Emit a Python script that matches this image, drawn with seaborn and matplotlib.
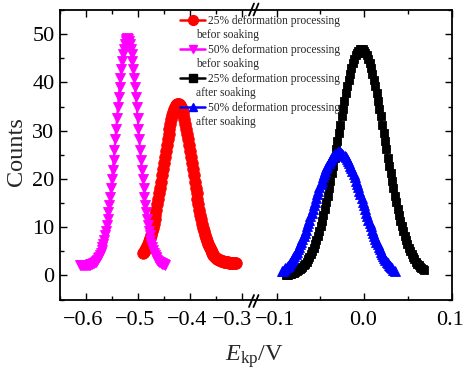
import matplotlib
matplotlib.use("Agg")
import matplotlib.pyplot as plt
import matplotlib.transforms as mtransforms
import seaborn as sns
from matplotlib.lines import Line2D
from matplotlib.ticker import MultipleLocator

# ---------------- data ----------------
labels_line1 = ["25% deformation processing", "50% deformation processing",
                "25% deformation processing", "50% deformation processing"]
labels_line2 = ["befor soaking", "befor soaking", "after soaking", "after soaking"]

x_red = [-0.4896, -0.4878, -0.4860, -0.4842, -0.4824, -0.4806, -0.4788, -0.4770, -0.4752, -0.4734,
         -0.4716, -0.4698, -0.4680, -0.4662, -0.4644, -0.4626, -0.4608, -0.4590, -0.4572, -0.4554,
         -0.4536, -0.4518, -0.4500, -0.4482, -0.4464, -0.4446, -0.4428, -0.4410, -0.4392, -0.4374,
         -0.4356, -0.4338, -0.4320, -0.4302, -0.4284, -0.4266, -0.4248, -0.4230, -0.4212, -0.4194,
         -0.4176, -0.4158, -0.4140, -0.4122, -0.4104, -0.4086, -0.4068, -0.4050, -0.4032, -0.4014,
         -0.3996, -0.3978, -0.3960, -0.3942, -0.3924, -0.3906, -0.3888, -0.3870, -0.3852, -0.3834,
         -0.3816, -0.3798, -0.3780, -0.3762, -0.3744, -0.3726, -0.3708, -0.3690, -0.3672, -0.3654,
         -0.3636, -0.3618, -0.3600, -0.3582, -0.3564, -0.3546, -0.3528, -0.3510, -0.3492, -0.3474,
         -0.3456, -0.3438, -0.3420, -0.3402, -0.3384, -0.3366, -0.3348, -0.3330, -0.3312, -0.3294,
         -0.3276, -0.3258, -0.3240, -0.3222, -0.3204, -0.3186, -0.3168, -0.3150, -0.3132, -0.3114]
y_red = [4.55, 4.86, 5.22, 5.62, 6.07, 6.57, 7.12, 7.72, 8.39, 9.11,
         9.90, 10.74, 11.65, 12.61, 13.63, 14.70, 15.83, 17.00, 18.21, 19.45,
         20.71, 21.99, 23.27, 24.55, 25.80, 27.03, 28.22, 29.36, 30.43, 31.43,
         32.33, 33.14, 33.84, 34.43, 34.89, 35.23, 35.43, 35.50, 35.43, 35.23,
         34.89, 34.43, 33.84, 33.14, 32.33, 31.43, 30.43, 29.36, 28.22, 27.03,
         25.80, 24.55, 23.27, 21.99, 20.71, 19.45, 18.21, 17.00, 15.83, 14.70,
         13.63, 12.61, 11.65, 10.74, 9.90, 9.11, 8.39, 7.72, 7.12, 6.57,
         6.07, 5.62, 5.22, 4.86, 4.55, 4.27, 4.02, 3.81, 3.62, 3.46,
         3.32, 3.20, 3.10, 3.02, 2.94, 2.88, 2.83, 2.79, 2.75, 2.72,
         2.70, 2.68, 2.66, 2.65, 2.64, 2.63, 2.62, 2.62, 2.62, 2.61]

x_mag = [-0.61125, -0.60960, -0.60795, -0.60630, -0.60465, -0.60300, -0.60135, -0.59970, -0.59805, -0.59640,
         -0.59475, -0.59310, -0.59145, -0.58980, -0.58815, -0.58650, -0.58485, -0.58320, -0.58155, -0.57990,
         -0.57825, -0.57660, -0.57495, -0.57330, -0.57165, -0.57000, -0.56835, -0.56670, -0.56505, -0.56340,
         -0.56175, -0.56010, -0.55845, -0.55680, -0.55515, -0.55350, -0.55185, -0.55020, -0.54855, -0.54690,
         -0.54525, -0.54360, -0.54195, -0.54030, -0.53865, -0.53700, -0.53535, -0.53370, -0.53205, -0.53040,
         -0.52875, -0.52710, -0.52545, -0.52380, -0.52215, -0.52050, -0.51885, -0.51720, -0.51555, -0.51390,
         -0.51225, -0.51060, -0.50895, -0.50730, -0.50565, -0.50400, -0.50235, -0.50070, -0.49905, -0.49740,
         -0.49575, -0.49410, -0.49245, -0.49080, -0.48915, -0.48750, -0.48585, -0.48420, -0.48255, -0.48090,
         -0.47925, -0.47760, -0.47595, -0.47430, -0.47265, -0.47100, -0.46935, -0.46770, -0.46605, -0.46440,
         -0.46275, -0.46110, -0.45945, -0.45780, -0.45615, -0.45450, -0.45285, -0.45120, -0.44955, -0.44790]
y_mag = [2.10, 2.11, 2.11, 2.11, 2.12, 2.13, 2.13, 2.15, 2.16, 2.18,
         2.21, 2.24, 2.28, 2.34, 2.40, 2.48, 2.59, 2.71, 2.87, 3.06,
         3.29, 3.56, 3.89, 4.27, 4.72, 5.25, 5.86, 6.57, 7.37, 8.28,
         9.30, 10.44, 11.71, 13.10, 14.62, 16.26, 18.02, 19.89, 21.86, 23.92,
         26.05, 28.24, 30.44, 32.66, 34.84, 36.97, 39.02, 40.96, 42.75, 44.37,
         45.79, 46.99, 47.94, 48.64, 49.06, 49.20, 49.06, 48.64, 47.94, 46.99,
         45.79, 44.37, 42.75, 40.96, 39.02, 36.97, 34.84, 32.66, 30.44, 28.24,
         26.05, 23.92, 21.86, 19.89, 18.02, 16.26, 14.62, 13.10, 11.71, 10.44,
         9.30, 8.28, 7.37, 6.57, 5.86, 5.25, 4.72, 4.27, 3.89, 3.56,
         3.29, 3.06, 2.87, 2.71, 2.59, 2.48, 2.40, 2.34, 2.28, 2.24]

x_blk = [-0.0899, -0.0883, -0.0867, -0.0851, -0.0835, -0.0819, -0.0803, -0.0787, -0.0771, -0.0755,
         -0.0739, -0.0723, -0.0707, -0.0691, -0.0675, -0.0659, -0.0643, -0.0627, -0.0611, -0.0595,
         -0.0579, -0.0563, -0.0547, -0.0531, -0.0515, -0.0499, -0.0483, -0.0467, -0.0451, -0.0435,
         -0.0419, -0.0403, -0.0387, -0.0371, -0.0355, -0.0339, -0.0323, -0.0307, -0.0291, -0.0275,
         -0.0259, -0.0243, -0.0227, -0.0211, -0.0195, -0.0179, -0.0163, -0.0147, -0.0131, -0.0115,
         -0.0099, -0.0083, -0.0067, -0.0051, -0.0035, -0.0019, -0.0003, 0.0013, 0.0029, 0.0045,
         0.0061, 0.0077, 0.0093, 0.0109, 0.0125, 0.0141, 0.0157, 0.0173, 0.0189, 0.0205,
         0.0221, 0.0237, 0.0253, 0.0269, 0.0285, 0.0301, 0.0317, 0.0333, 0.0349, 0.0365,
         0.0381, 0.0397, 0.0413, 0.0429, 0.0445, 0.0461, 0.0477, 0.0493, 0.0509, 0.0525,
         0.0541, 0.0557, 0.0573, 0.0589, 0.0605, 0.0621, 0.0637, 0.0653, 0.0669, 0.0685]
y_blk = [0.05, 0.10, 0.17, 0.24, 0.33, 0.43, 0.55, 0.69, 0.85, 1.04,
         1.26, 1.50, 1.78, 2.10, 2.46, 2.87, 3.32, 3.83, 4.40, 5.02,
         5.71, 6.47, 7.29, 8.19, 9.16, 10.21, 11.33, 12.52, 13.79, 15.13,
         16.54, 18.02, 19.55, 21.14, 22.77, 24.43, 26.12, 27.83, 29.54, 31.25,
         32.93, 34.57, 36.17, 37.70, 39.16, 40.52, 41.79, 42.93, 43.95, 44.83,
         45.57, 46.14, 46.56, 46.82, 46.90, 46.82, 46.56, 46.14, 45.57, 44.83,
         43.95, 42.93, 41.79, 40.52, 39.16, 37.70, 36.17, 34.57, 32.93, 31.25,
         29.54, 27.83, 26.12, 24.43, 22.77, 21.14, 19.55, 18.02, 16.54, 15.13,
         13.79, 12.52, 11.33, 10.21, 9.16, 8.19, 7.29, 6.47, 5.71, 5.02,
         4.40, 3.83, 3.32, 2.87, 2.46, 2.10, 1.78, 1.50, 1.26, 1.04]

x_blu = [-0.0940, -0.0927, -0.0914, -0.0901, -0.0888, -0.0875, -0.0862, -0.0849, -0.0836, -0.0823,
         -0.0810, -0.0797, -0.0784, -0.0771, -0.0758, -0.0745, -0.0732, -0.0719, -0.0706, -0.0693,
         -0.0680, -0.0667, -0.0654, -0.0641, -0.0628, -0.0615, -0.0602, -0.0589, -0.0576, -0.0563,
         -0.0550, -0.0537, -0.0524, -0.0511, -0.0498, -0.0485, -0.0472, -0.0459, -0.0446, -0.0433,
         -0.0420, -0.0407, -0.0394, -0.0381, -0.0368, -0.0355, -0.0342, -0.0329, -0.0316, -0.0303,
         -0.0290, -0.0277, -0.0264, -0.0251, -0.0238, -0.0225, -0.0212, -0.0199, -0.0186, -0.0173,
         -0.0160, -0.0147, -0.0134, -0.0121, -0.0108, -0.0095, -0.0082, -0.0069, -0.0056, -0.0043,
         -0.0030, -0.0017, -0.0004, 0.0009, 0.0022, 0.0035, 0.0048, 0.0061, 0.0074, 0.0087,
         0.0100, 0.0113, 0.0126, 0.0139, 0.0152, 0.0165, 0.0178, 0.0191, 0.0204, 0.0217,
         0.0230, 0.0243, 0.0256, 0.0269, 0.0282, 0.0295, 0.0308, 0.0321, 0.0334, 0.0347]
y_blu = [0.81, 1.00, 1.20, 1.43, 1.67, 1.94, 2.22, 2.53, 2.86, 3.22,
         3.60, 4.01, 4.44, 4.90, 5.38, 5.89, 6.43, 6.99, 7.58, 8.19,
         8.82, 9.48, 10.15, 10.85, 11.56, 12.28, 13.02, 13.76, 14.51, 15.27,
         16.02, 16.77, 17.51, 18.24, 18.96, 19.65, 20.33, 20.97, 21.59, 22.17,
         22.72, 23.22, 23.68, 24.10, 24.46, 24.78, 25.03, 25.24, 25.38, 25.47,
         25.50, 25.47, 25.38, 25.24, 25.03, 24.78, 24.46, 24.10, 23.68, 23.22,
         22.72, 22.17, 21.59, 20.97, 20.33, 19.65, 18.96, 18.24, 17.51, 16.77,
         16.02, 15.27, 14.51, 13.76, 13.02, 12.28, 11.56, 10.85, 10.15, 9.48,
         8.82, 8.19, 7.58, 6.99, 6.43, 5.89, 5.38, 4.90, 4.44, 4.01,
         3.60, 3.22, 2.86, 2.53, 2.22, 1.94, 1.67, 1.43, 1.20, 1.00]

# ---------------- style ----------------
sns.set_style("ticks")
plt.rcParams["font.family"] = ["Liberation Serif", "DejaVu Serif"]
plt.rcParams["mathtext.fontset"] = "custom"
plt.rcParams["mathtext.rm"] = "Liberation Serif"
plt.rcParams["mathtext.it"] = "Liberation Serif:italic"
plt.rcParams["axes.unicode_minus"] = True

W, H = 465, 371
fig = plt.figure(figsize=(W / 100, H / 100), dpi=100)
fig.patch.set_facecolor("white")


def fx(px):
    return px / W


def fy(py):
    return 1 - py / H


TOP, BOT, LEFT, BRK, RIGHT = 10, 299.5, 60, 255, 451.7
axL = fig.add_axes([fx(LEFT), fy(BOT), (BRK - LEFT) / W, (BOT - TOP) / H])
axR = fig.add_axes([fx(BRK), fy(BOT), (RIGHT - BRK) / W, (BOT - TOP) / H])

series = [
    (x_red, y_red, "#ff0000", "o", 8.3, axL),
    (x_mag, y_mag, "#ff00ff", "v", 7.4, axL),
    (x_blk, y_blk, "#000000", "s", 6.4, axR),
    (x_blu, y_blu, "#0000ff", "^", 7.4, axR),
]
for xs, ys, c, m, ms, ax in series:
    sns.lineplot(x=xs, y=ys, ax=ax, color=c, marker=m, markersize=ms,
                 markeredgecolor=c, markeredgewidth=0.6, linewidth=1.5,
                 estimator=None, errorbar=None, sort=False)

for ax in (axL, axR):
    ax.set_ylim(-5, 55)
    ax.yaxis.set_major_locator(MultipleLocator(10))
    ax.yaxis.set_minor_locator(MultipleLocator(5))
    ax.xaxis.set_major_locator(MultipleLocator(0.1))
    ax.xaxis.set_minor_locator(MultipleLocator(0.05))
    ax.tick_params(which="both", direction="in", width=1.0, top=True,
                   labelsize=16, colors="black")
    ax.tick_params(which="major", length=5)
    ax.tick_params(which="minor", length=3)
    ax.tick_params(axis="x", which="both", pad=8)
    ax.tick_params(axis="y", which="both", pad=4)
    ax.set_xlabel("")
    ax.set_ylabel("")
    ax.set_facecolor("white")
    for s in ax.spines.values():
        s.set_linewidth(1.3)
        s.set_color("black")

axL.set_xlim(-0.6501, -0.2744)
axL.spines["right"].set_visible(False)
axL.tick_params(axis="y", which="both", left=True, right=False)

axR.set_xlim(-0.1248, 0.1)
axR.spines["left"].set_visible(False)
axR.tick_params(axis="y", which="both", left=False, right=True,
                labelleft=False, labelright=False)

# axis titles
fig.text(fx(16.5), fy(152), "Counts", rotation=90, ha="center", va="center",
         fontsize=17.5)
fig.text(fx(254), fy(361), r"$E_{\mathrm{kp}}$/V", ha="center", va="baseline",
         fontsize=17.5)

# break marks
for cy in (9.5, 301):
    for cx in (251.5, 256):
        fig.add_artist(Line2D([fx(cx - 2.5), fx(cx + 2.5)], [fy(cy + 6), fy(cy - 6)],
                              transform=fig.transFigure, color="black", lw=1.3))

# legend
handles = [Line2D([], [], color=c, marker=m, markersize=ms * 0.85, linewidth=1.8,
                  markeredgecolor=c) for _, _, c, m, ms, _ in series]
leg = fig.legend(handles, labels_line1, loc="upper left",
                 bbox_to_anchor=(fx(180), fy(15)), frameon=False, fontsize=8.3,
                 handlelength=2.2, handletextpad=0.25, labelspacing=1.48,
                 borderpad=0, borderaxespad=0)
fig.canvas.draw()
renderer = fig.canvas.get_renderer()
for t, s in zip(leg.get_texts(), labels_line2):
    bb = t.get_window_extent(renderer)
    fig.text((bb.x0 - 12) / W, (bb.y0 - 14.3) / H, s, fontsize=8.3,
             ha="left", va="bottom")

# shift x tick labels as in the reference (the -0.3 label sits left of its tick)
shifts = {-0.6: -3, -0.5: -3, -0.4: -3, -0.3: -9.5, -0.1: -1.7, 0.0: -1, 0.1: -1.5}
for ax in (axL, axR):
    for tick in ax.xaxis.get_major_ticks():
        loc = round(float(tick.get_loc()), 2)
        dx = shifts.get(loc, 0)
        if dx:
            off = mtransforms.ScaledTranslation(dx / 100, 0, fig.dpi_scale_trans)
            tick.label1.set_transform(tick.label1.get_transform() + off)

fig.savefig("out.png", dpi=100)
